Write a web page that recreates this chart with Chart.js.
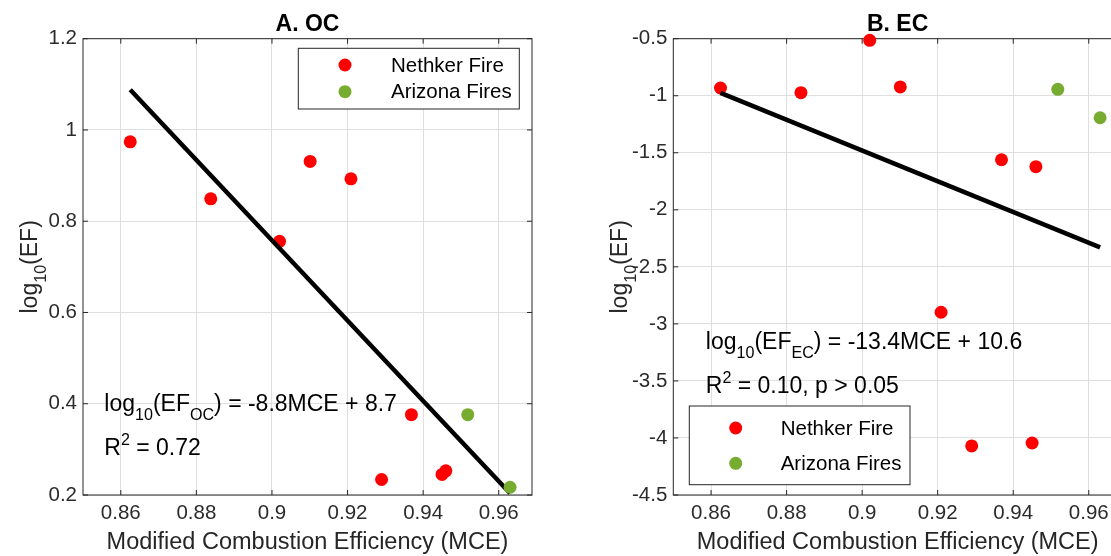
<!DOCTYPE html>
<html>
<head>
<meta charset="utf-8">
<script src="https://cdn.jsdelivr.net/npm/chart.js"></script>
<style>
  html, body { margin: 0; padding: 0; background: #fff; overflow: hidden; width: 1111px; height: 556px; }
  #chartA { position: absolute; left: 0; top: 0; }
  #chartB { position: absolute; left: 560px; top: 0; }
</style>
</head>
<body>
<canvas id="chartA" width="556" height="556"></canvas>
<canvas id="chartB" width="600" height="556"></canvas>
<script>
// values
const nethkerMCE = [0.8625, 0.8838, 0.902, 0.9101, 0.9209, 0.929, 0.9369, 0.945, 0.946];
const nethkerOC = [0.974, 0.849, 0.756, 0.931, 0.893, 0.234, 0.376, 0.245, 0.253];
const nethkerEC = [-0.932, -0.973, -0.514, -0.923, -2.898, -4.07, -1.561, -4.044, -1.622];
const arizonaMCE = [0.9518, 0.963];
const arizonaOC = [0.376, 0.217];
const arizonaEC = [-0.944, -1.193];
// regression line ends
const fitMCE = [0.8625, 0.963];
const fitOC = [1.088, 0.204];
const fitEC = [-0.975, -2.33];

const mceTicks = [0.86, 0.88, 0.9, 0.92, 0.94, 0.96];
const mceTickLabels = ['0.86', '0.88', '0.9', '0.92', '0.94', '0.96'];
const ocTicks = [0.2, 0.4, 0.6, 0.8, 1, 1.2];
const ocTickLabels = ['0.2', '0.4', '0.6', '0.8', '1', '1.2'];
const ecTicks = [-4.5, -4, -3.5, -3, -2.5, -2, -1.5, -1, -0.5];
const ecTickLabels = ['-4.5', '-4', '-3.5', '-3', '-2.5', '-2', '-1.5', '-1', '-0.5'];

const FONT = '"Liberation Sans", Arial, Helvetica, sans-serif';
const RED = '#ff0000';
const GREEN = '#77ac30';

function pts(xs, ys) {
  return xs.map(function (x, i) { return { x: x, y: ys[i] }; });
}

function richWidth(ctx, parts, size) {
  let w = 0;
  parts.forEach(function (p) {
    ctx.font = ((p.sub || p.sup) ? size * 0.7 : size) + 'px ' + FONT;
    w += ctx.measureText(p.t).width;
  });
  return w;
}

function drawRich(ctx, parts, x, y, size) {
  ctx.textBaseline = 'alphabetic';
  ctx.textAlign = 'left';
  parts.forEach(function (p) {
    ctx.font = ((p.sub || p.sup) ? size * 0.7 : size) + 'px ' + FONT;
    let dy = 0;
    if (p.sub) dy = size * 0.4;
    if (p.sup) dy = -size * 0.43;
    ctx.fillText(p.t, x, y + dy);
    x += ctx.measureText(p.t).width;
  });
}

const yTitleParts = [{ t: 'log' }, { t: '10', sub: true }, { t: '(EF)' }];

// frame, inward ticks, titles, notes and legend
function panelPlugin(cfg) {
  return {
    id: 'panel',
    beforeDatasetsDraw: function (chart) {
      const ctx = chart.ctx;
      const a = chart.chartArea;
      const xs = chart.scales.x, ys = chart.scales.y;
      ctx.save();
      ctx.strokeStyle = '#262626';
      ctx.lineWidth = 1;
      ctx.strokeRect(a.left, a.top, a.right - a.left, a.bottom - a.top);
      ctx.beginPath();
      xs.ticks.forEach(function (t) {
        const px = xs.getPixelForValue(t.value);
        ctx.moveTo(px, a.bottom); ctx.lineTo(px, a.bottom - 5);
        ctx.moveTo(px, a.top); ctx.lineTo(px, a.top + 5);
      });
      ys.ticks.forEach(function (t) {
        const py = ys.getPixelForValue(t.value);
        ctx.moveTo(a.left, py); ctx.lineTo(a.left + 5, py);
        ctx.moveTo(a.right, py); ctx.lineTo(a.right - 5, py);
      });
      ctx.stroke();
      ctx.restore();
    },
    afterDraw: function (chart) {
      const ctx = chart.ctx;
      const a = chart.chartArea;
      const cx = (a.left + a.right) / 2;
      const cy = (a.top + a.bottom) / 2;
      ctx.save();
      ctx.fillStyle = '#000';
      // title
      ctx.font = 'bold 23px ' + FONT;
      ctx.textAlign = 'center';
      ctx.textBaseline = 'middle';
      ctx.fillText(cfg.title, cx, 25);
      // x title
      ctx.fillStyle = '#262626';
      ctx.font = '23.5px ' + FONT;
      ctx.fillText('Modified Combustion Efficiency (MCE)', cx, 543);
      // y title
      ctx.save();
      ctx.translate(cfg.yTitleX, cy);
      ctx.rotate(-Math.PI / 2);
      drawRich(ctx, yTitleParts, -richWidth(ctx, yTitleParts, 23) / 2, 0, 23);
      ctx.restore();
      // equation and R2
      ctx.fillStyle = '#000';
      cfg.notes.forEach(function (n) {
        drawRich(ctx, n.parts, n.x, n.y, 23);
      });
      // legend
      const lg = cfg.legend;
      ctx.fillStyle = '#fff';
      ctx.fillRect(lg.left, lg.top, lg.right - lg.left, lg.bottom - lg.top);
      ctx.strokeStyle = '#262626';
      ctx.lineWidth = 1;
      ctx.strokeRect(lg.left, lg.top, lg.right - lg.left, lg.bottom - lg.top);
      ctx.font = '20.5px ' + FONT;
      ctx.textAlign = 'left';
      ctx.textBaseline = 'middle';
      [0, 1].forEach(function (i) {
        const ds = chart.data.datasets[i];
        ctx.fillStyle = ds.backgroundColor;
        ctx.beginPath();
        ctx.arc(lg.markX, lg.rows[i], 6.5, 0, Math.PI * 2);
        ctx.fill();
        ctx.fillStyle = '#000';
        ctx.fillText(ds.label, lg.textX, lg.rows[i] + 1);
      });
      ctx.restore();
    }
  };
}

function makeChart(id, cfg) {
  new Chart(document.getElementById(id), {
    type: 'scatter',
    data: {
      datasets: [{
        label: 'Nethker Fire',
        data: pts(nethkerMCE, cfg.nethker),
        backgroundColor: RED,
        borderWidth: 0,
        pointRadius: 6.5,
        order: 3
      }, {
        label: 'Arizona Fires',
        data: pts(arizonaMCE, cfg.arizona),
        backgroundColor: GREEN,
        borderWidth: 0,
        pointRadius: 6.5,
        order: 1
      }, {
        label: 'fit',
        data: pts(fitMCE, cfg.fit),
        showLine: true,
        borderColor: '#000',
        borderWidth: 4.5,
        pointRadius: 0,
        order: 2
      }]
    },
    options: {
      responsive: false,
      animation: false,
      events: [],
      clip: false,
      layout: { padding: { left: 0, top: 38.7, right: cfg.padRight, bottom: 0 } },
      plugins: { legend: { display: false }, tooltip: { enabled: false }, title: { display: false } },
      scales: {
        x: {
          type: 'linear',
          min: 0.85,
          max: 0.9688,
          afterBuildTicks: function (s) { s.ticks = mceTicks.map(function (v) { return { value: v }; }); },
          afterFit: function (s) { s.height = 61; },
          grid: { color: '#dfdfdf', lineWidth: 1, drawTicks: false },
          border: { display: false },
          ticks: {
            padding: 6.5,
            color: '#2b2b2b',
            font: { family: FONT, size: 20.5 },
            callback: function (v, i) { return mceTickLabels[i]; }
          }
        },
        y: {
          type: 'linear',
          min: cfg.yMin,
          max: cfg.yMax,
          afterBuildTicks: function (s) { s.ticks = cfg.yTicks.map(function (v) { return { value: v }; }); },
          afterFit: function (s) { s.width = cfg.areaLeft; },
          grid: { color: '#dfdfdf', lineWidth: 1, drawTicks: false },
          border: { display: false },
          ticks: {
            padding: 6,
            color: '#2b2b2b',
            font: { family: FONT, size: 20.5 },
            callback: function (v, i) { return cfg.yLabels[i]; }
          }
        }
      }
    },
    plugins: [panelPlugin(cfg)]
  });
}

makeChart('chartA', {
  title: 'A. OC',
  nethker: nethkerOC, arizona: arizonaOC, fit: fitOC,
  yMin: 0.2, yMax: 1.2, yTicks: ocTicks, yLabels: ocTickLabels,
  areaLeft: 83, padRight: 24,
  yTitleX: 36.7,
  notes: [
    { x: 104.3, y: 410.7, parts: [{ t: 'log' }, { t: '10', sub: true }, { t: '(EF' }, { t: 'OC', sub: true }, { t: ') = -8.8MCE + 8.7' }] },
    { x: 104.3, y: 455, parts: [{ t: 'R' }, { t: '2', sup: true }, { t: ' = 0.72' }] }
  ],
  legend: { left: 298.3, right: 519.3, top: 48.3, bottom: 109, markX: 345, textX: 391, rows: [65, 91.7] }
});

makeChart('chartB', {
  title: 'B. EC',
  nethker: nethkerEC, arizona: arizonaEC, fit: fitEC,
  yMin: -4.5, yMax: -0.5, yTicks: ecTicks, yLabels: ecTickLabels,
  areaLeft: 113.3, padRight: 38,
  yTitleX: 67,
  notes: [
    { x: 145.8, y: 349, parts: [{ t: 'log' }, { t: '10', sub: true }, { t: '(EF' }, { t: 'EC', sub: true }, { t: ') = -13.4MCE + 10.6' }] },
    { x: 145.8, y: 393.3, parts: [{ t: 'R' }, { t: '2', sup: true }, { t: ' = 0.10, p > 0.05' }] }
  ],
  legend: { left: 129.3, right: 350, top: 406, bottom: 484.7, markX: 175.7, textX: 220.7, rows: [428, 463.3] }
});
</script>
</body>
</html>
